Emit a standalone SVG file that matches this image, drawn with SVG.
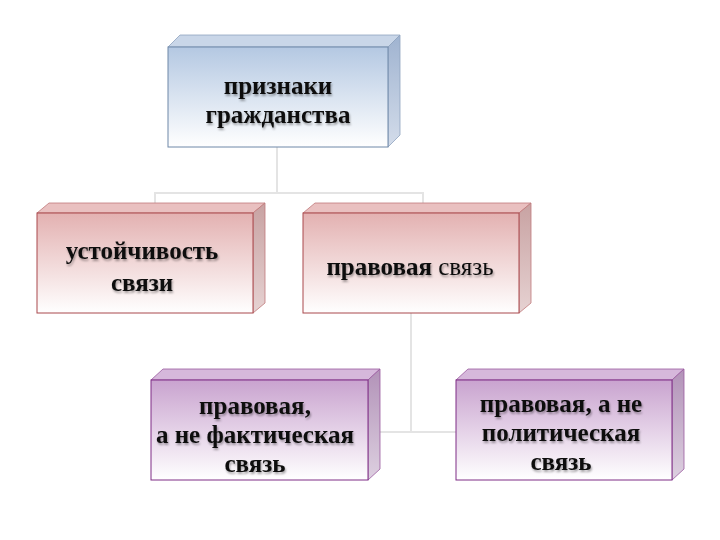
<svg xmlns="http://www.w3.org/2000/svg" width="720" height="540" viewBox="0 0 720 540">
<defs>
<linearGradient id="gBlue" x1="0" y1="0" x2="0" y2="1"><stop offset="0" stop-color="#b4c8e2"/><stop offset="1" stop-color="#ffffff"/></linearGradient>
<linearGradient id="gPink" x1="0" y1="0" x2="0" y2="1"><stop offset="0" stop-color="#e3b1b1"/><stop offset="1" stop-color="#ffffff"/></linearGradient>
<linearGradient id="gPurple" x1="0" y1="0" x2="0" y2="1"><stop offset="0" stop-color="#c9a3cf"/><stop offset="1" stop-color="#ffffff"/></linearGradient>
<linearGradient id="sBlue" x1="0" y1="0" x2="0" y2="1"><stop offset="0" stop-color="#9fb3d0"/><stop offset="1" stop-color="#d3dcea"/></linearGradient>
<linearGradient id="sPink" x1="0" y1="0" x2="0" y2="1"><stop offset="0" stop-color="#c8a2a2"/><stop offset="1" stop-color="#e6d2d2"/></linearGradient>
<linearGradient id="sPurple" x1="0" y1="0" x2="0" y2="1"><stop offset="0" stop-color="#b292b8"/><stop offset="1" stop-color="#ddd0e0"/></linearGradient>
<filter id="ts" x="-10%" y="-20%" width="120%" height="150%"><feGaussianBlur in="SourceAlpha" stdDeviation="1"/><feOffset dx="1" dy="1.5"/><feComponentTransfer><feFuncA type="linear" slope="0.35"/></feComponentTransfer><feMerge><feMergeNode/><feMergeNode in="SourceGraphic"/></feMerge></filter>
</defs>
<style>
text{font-family:"Liberation Serif","Times New Roman",serif;font-size:25px;font-weight:bold;fill:#111;text-anchor:middle}
.n{font-weight:normal}
.conn line{stroke:#e4e4e4;stroke-width:2}
.blue .front{fill:url(#gBlue);stroke:#6f88a8;stroke-width:1}
.blue .top{fill:#c9d6e8;stroke:#8fa3bf;stroke-width:0.8}
.blue .side{fill:url(#sBlue);stroke:#8fa3bf;stroke-width:0.8}
.pink .front{fill:url(#gPink);stroke:#a9494c;stroke-width:1}
.pink .top{fill:#e9c0c0;stroke:#c07a7b;stroke-width:0.8}
.pink .side{fill:url(#sPink);stroke:#c07a7b;stroke-width:0.8}
.purple .front{fill:url(#gPurple);stroke:#7e2d85;stroke-width:1}
.purple .top{fill:#d6b8db;stroke:#9a5aa0;stroke-width:0.8}
.purple .side{fill:url(#sPurple);stroke:#9a5aa0;stroke-width:0.8}
</style>
<rect width="720" height="540" fill="#ffffff"/>
<g class="conn">
<line x1="277" y1="147" x2="277" y2="193"/>
<line x1="155" y1="193" x2="423" y2="193"/>
<line x1="155" y1="192" x2="155" y2="203"/>
<line x1="423" y1="192" x2="423" y2="203"/>
<line x1="411" y1="313" x2="411" y2="432"/>
<line x1="368" y1="432" x2="456" y2="432"/>
</g>
<g id="n1" class="blue">
<polygon class="top" points="168,47 180,35 400,35 388,47"/>
<polygon class="side" points="388,47 400,35 400,135 388,147"/>
<rect class="front" x="168" y="47" width="220" height="100"/>
<g filter="url(#ts)"><text x="278" y="94">признаки</text><text x="278" y="123">гражданства</text></g>
</g>
<g id="n2" class="pink">
<polygon class="top" points="37,213 49,203 265,203 253,213"/>
<polygon class="side" points="253,213 265,203 265,303 253,313"/>
<rect class="front" x="37" y="213" width="216" height="100"/>
<g filter="url(#ts)"><text x="142" y="259">устойчивость</text><text x="142" y="291">связи</text></g>
</g>
<g id="n3" class="pink">
<polygon class="top" points="303,213 315,203 531,203 519,213"/>
<polygon class="side" points="519,213 531,203 531,303 519,313"/>
<rect class="front" x="303" y="213" width="216" height="100"/>
<g filter="url(#ts)"><text x="410" y="275">правовая <tspan class="n">связь</tspan></text></g>
</g>
<g id="n4" class="purple">
<polygon class="top" points="151,380 163,369 380,369 368,380"/>
<polygon class="side" points="368,380 380,369 380,469 368,480"/>
<rect class="front" x="151" y="380" width="217" height="100"/>
<g filter="url(#ts)"><text x="255" y="414">правовая,</text><text x="255" y="443">а не фактическая</text><text x="255" y="472">связь</text></g>
</g>
<g id="n5" class="purple">
<polygon class="top" points="456,380 468,369 684,369 672,380"/>
<polygon class="side" points="672,380 684,369 684,469 672,480"/>
<rect class="front" x="456" y="380" width="216" height="100"/>
<g filter="url(#ts)"><text x="561" y="412">правовая, а не</text><text x="561" y="441">политическая</text><text x="561" y="470">связь</text></g>
</g>
</svg>
